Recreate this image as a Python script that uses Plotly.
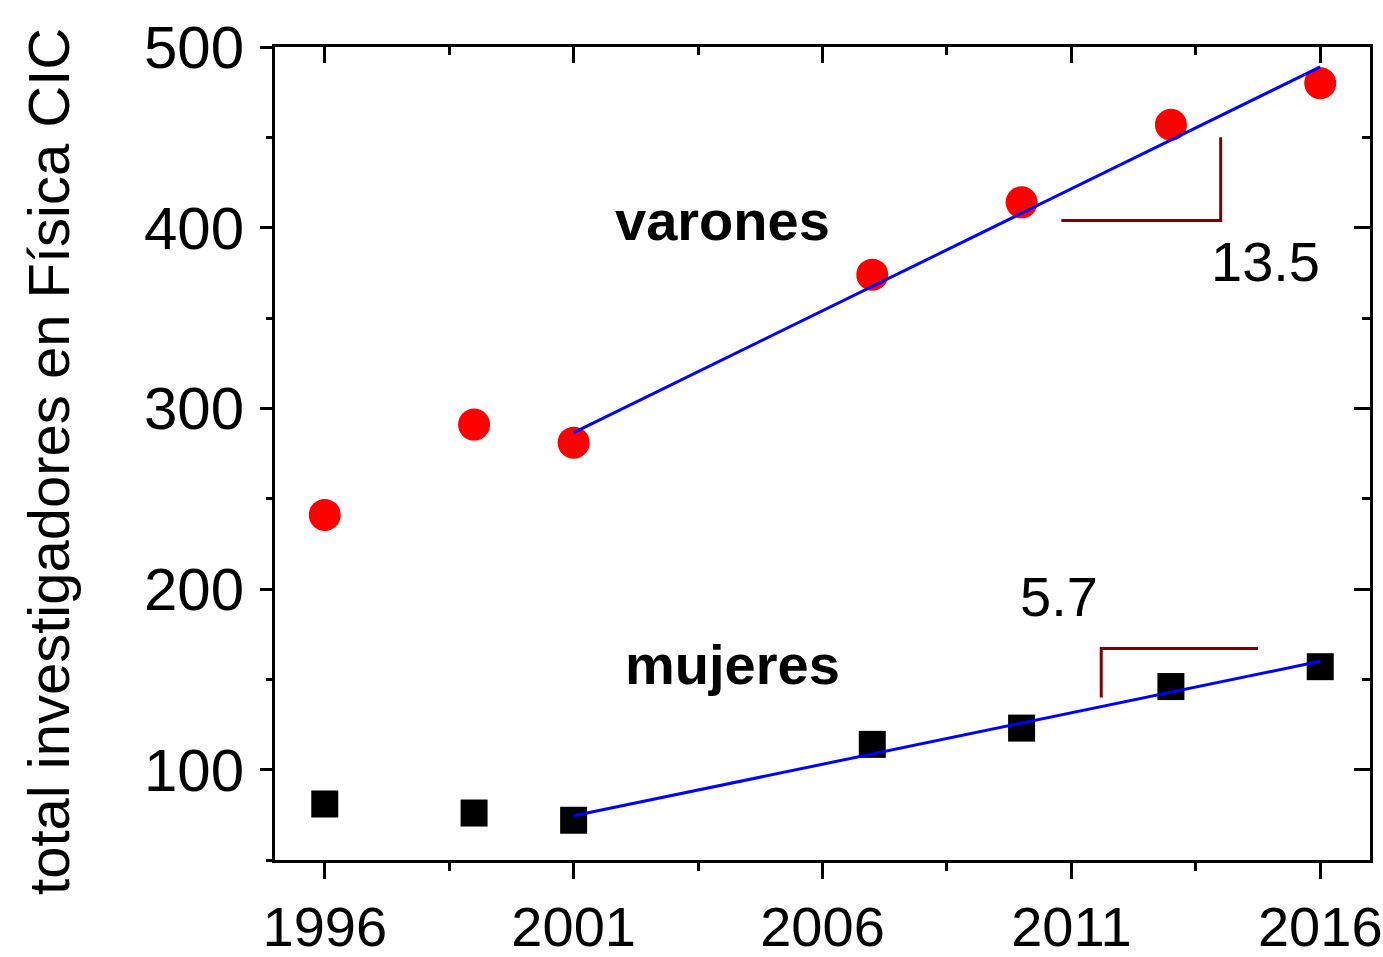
import plotly.graph_objects as go

# data
years = [1996, 1999, 2001, 2007, 2010, 2013, 2016]
varones = [241, 291, 281, 374, 414, 457, 480]
mujeres = [81, 76, 72, 114, 123, 146, 157]

# linear fits 2001-2016 (slope per year, value at 2001)
fit_years = [2001, 2016]
varones_slope, varones_2001 = 13.5, 286.5
mujeres_slope, mujeres_2001 = 5.7, 74.5

# slope marks (corner guides)
tri_v_x = [2010.8, 2014.0, 2014.0]
tri_v_y = [404, 404, 450]
tri_m_x = [2011.6, 2011.6, 2014.75]
tri_m_y = [140, 167, 167]

FONT = "Liberation Sans, Arial, sans-serif"

fit_v = [varones_2001 + varones_slope * (y - fit_years[0]) for y in fit_years]
fit_m = [mujeres_2001 + mujeres_slope * (y - fit_years[0]) for y in fit_years]

fig = go.Figure()

fig.add_trace(go.Scatter(x=years, y=varones, mode="markers",
                         marker=dict(symbol="circle", size=32, color="#ff0000"),
                         showlegend=False))
fig.add_trace(go.Scatter(x=years, y=mujeres, mode="markers",
                         marker=dict(symbol="square", size=27, color="black"),
                         showlegend=False))
fig.add_trace(go.Scatter(x=fit_years, y=fit_v, mode="lines",
                         line=dict(color="#0000ff", width=3), showlegend=False))
fig.add_trace(go.Scatter(x=fit_years, y=fit_m, mode="lines",
                         line=dict(color="#0000ff", width=3), showlegend=False))
fig.add_trace(go.Scatter(x=tri_v_x, y=tri_v_y, mode="lines",
                         line=dict(color="#800000", width=3), showlegend=False))
fig.add_trace(go.Scatter(x=tri_m_x, y=tri_m_y, mode="lines",
                         line=dict(color="#800000", width=3), showlegend=False))
# invisible trace to show the mirrored top/right axes
fig.add_trace(go.Scatter(x=[2000], y=[100], xaxis="x2", yaxis="y2", mode="markers",
                         marker=dict(opacity=0), showlegend=False, hoverinfo="skip"))

axis_common = dict(showgrid=False, zeroline=False, showline=True, linecolor="black",
                   linewidth=3, tickcolor="black", tickwidth=3, automargin=False)

fig.update_layout(
    width=1383, height=957,
    plot_bgcolor="white", paper_bgcolor="white",
    margin=dict(l=275, r=13, t=47, b=97),
    font=dict(family=FONT, color="black"),
    xaxis=dict(range=[1995, 2017], tickvals=[1996, 2001, 2006, 2011, 2016],
               ticks="outside", ticklen=16, ticklabeloverflow="allow", ticklabelstandoff=0,
               minor=dict(tickvals=[1998.5, 2003.5, 2008.5, 2013.5], ticks="outside",
                          ticklen=8, tickwidth=3, tickcolor="black"),
               tickfont=dict(size=56, family=FONT), **axis_common),
    yaxis=dict(range=[50, 500], tickvals=[100, 200, 300, 400, 500],
               ticks="outside", ticklen=12, ticklabeloverflow="allow", ticklabelstandoff=4,
               minor=dict(tickvals=[50, 150, 250, 350, 450], ticks="outside",
                          ticklen=6, tickwidth=3, tickcolor="black"),
               tickfont=dict(size=60, family=FONT), **axis_common),
    xaxis2=dict(overlaying="x", side="top", matches="x", range=[1995, 2017],
                tickvals=[1996, 2001, 2006, 2011, 2016], ticks="inside", ticklen=16,
                minor=dict(tickvals=[1998.5, 2003.5, 2008.5, 2013.5], ticks="inside",
                           ticklen=8, tickwidth=3, tickcolor="black"),
                showticklabels=False, anchor="y2", **axis_common),
    yaxis2=dict(overlaying="y", side="right", matches="y", range=[50, 500],
                tickvals=[100, 200, 300, 400, 500], ticks="inside", ticklen=16,
                minor=dict(tickvals=[50, 150, 250, 350, 450], ticks="inside",
                           ticklen=8, tickwidth=3, tickcolor="black"),
                showticklabels=False, anchor="x2", **axis_common),
)

fig.add_annotation(x=-0.207, y=0.49, xref="paper", yref="paper", textangle=-90,
                   text="total investigadores en Física CIC", showarrow=False,
                   font=dict(size=58, family=FONT), xanchor="center", yanchor="middle")
fig.add_annotation(x=2004, y=404, text="<b>varones</b>", showarrow=False,
                   font=dict(size=56, family=FONT))
fig.add_annotation(x=2004.2, y=158, text="<b>mujeres</b>", showarrow=False,
                   font=dict(size=56, family=FONT))
fig.add_annotation(x=2014.9, y=381, text="13.5", showarrow=False,
                   font=dict(size=56, family=FONT))
fig.add_annotation(x=2010.75, y=196, text="5.7", showarrow=False,
                   font=dict(size=56, family=FONT))

# the page's default body margin would shift the fixed-size figure
fig.write_html("out.html", config={"displayModeBar": False},
               post_script="document.body.style.margin='0';")
